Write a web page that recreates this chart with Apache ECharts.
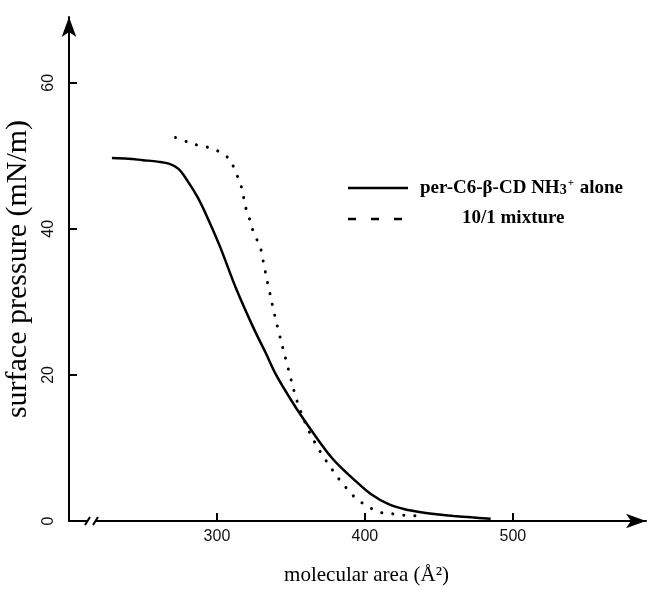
<!DOCTYPE html>
<html><head><meta charset="utf-8">
<script src="https://cdn.jsdelivr.net/npm/echarts@6/dist/echarts.min.js"></script>
<style>html,body{margin:0;padding:0;background:#fff}#c{width:651px;height:593px}</style>
</head><body><div id="c"></div>
<script>
// per-C6-beta-CD NH3+ alone (solid)
const aloneArea = [229, 240, 250, 260, 268, 274, 280, 287, 293, 302, 313, 325, 333, 340, 350, 357, 367, 377, 385, 393, 404, 416, 427, 438, 450, 460, 472, 485];
const alonePressure = [49.7, 49.6, 49.4, 49.2, 48.9, 48.2, 46.6, 44.3, 41.8, 37.6, 31.8, 26.3, 23.0, 20.0, 16.6, 14.4, 11.5, 8.8, 7.1, 5.6, 3.7, 2.3, 1.6, 1.2, 0.9, 0.7, 0.5, 0.3];
// 10/1 mixture (dotted)
const mixArea = [272, 280, 288, 295, 302, 309, 312, 316, 320, 323, 325, 329, 331, 335, 339, 341, 348, 354, 360, 366, 372, 378, 383, 388, 394, 402, 410, 418, 426, 434, 440];
const mixPressure = [52.5, 51.9, 51.4, 51.1, 50.5, 49.4, 48.0, 46.1, 42.5, 40.8, 39.3, 37.7, 35.8, 31.9, 28.2, 26.5, 21.0, 16.5, 13.3, 10.8, 8.8, 7.0, 5.6, 4.4, 3.1, 2.0, 1.2, 1.0, 0.8, 0.7, 0.6];
const xTicks = [300, 400, 500];
const yTicks = [0, 20, 40, 60];
const seriesNames = ['per-C6-β-CD NH3+ alone', '10/1 mixture'];
const xTitle = 'molecular area (Å²)';
const yTitle = 'surface pressure (mN/m)';

const zip = (a, b) => a.map((v, i) => [v, b[i]]);
const chart = echarts.init(document.getElementById('c'), null, {renderer: 'canvas'});
const serif = '"Liberation Serif", "DejaVu Serif", serif';
const sans = '"Liberation Sans", "DejaVu Sans", sans-serif';

chart.setOption({
  backgroundColor: '#fff',
  animation: false,
  grid: {left: 69, right: 5, top: 17, bottom: 72, outerBoundsMode: 'none', containLabel: false},
  xAxis: {
    type: 'value', min: 200, max: 590,
    name: xTitle, nameLocation: 'middle', nameGap: 44,
    nameTextStyle: {fontFamily: serif, fontSize: 21, color: '#000', padding: [0, 0, 0, 18]},
    axisLine: {show: true, onZero: false, lineStyle: {color: '#000', width: 2}, symbol: ['none', 'arrow'], symbolSize: [11, 20]},
    axisTick: {show: true, inside: true, length: 8, lineStyle: {color: '#000', width: 2}, customValues: xTicks},
    axisLabel: {show: true, margin: 8, fontFamily: sans, fontSize: 16, color: '#111', customValues: xTicks},
    splitLine: {show: false}
  },
  yAxis: {
    type: 'value', min: 0, max: 69,
    name: yTitle, nameLocation: 'middle', nameGap: 30, nameRotate: 90,
    nameTextStyle: {fontFamily: serif, fontSize: 30, color: '#000'},
    axisLine: {show: true, lineStyle: {color: '#000', width: 2}, symbol: ['none', 'arrow'], symbolSize: [11, 20]},
    axisTick: {show: true, inside: true, length: 8, lineStyle: {color: '#000', width: 2}, customValues: yTicks},
    axisLabel: {show: true, rotate: 90, margin: 12, fontFamily: sans, fontSize: 16, color: '#111', customValues: yTicks},
    splitLine: {show: false}
  },
  series: [
    {type: 'line', name: seriesNames[0], data: zip(aloneArea, alonePressure), showSymbol: false,
     smooth: 0.35, lineStyle: {color: '#000', width: 2.5}},
    {type: 'line', name: seriesNames[1], data: zip(mixArea, mixPressure), showSymbol: false,
     smooth: 0.35, lineStyle: {color: '#000', width: 3, type: [0.1, 11], cap: 'round'}}
  ],
  graphic: [
    // axis break marks
    {type: 'rect', shape: {x: 88, y: 517, width: 7, height: 8}, style: {fill: '#fff'}, z: 100},
    {type: 'line', shape: {x1: 85, y1: 525, x2: 90, y2: 517}, style: {stroke: '#000', lineWidth: 2}, z: 101},
    {type: 'line', shape: {x1: 93, y1: 525, x2: 98, y2: 517}, style: {stroke: '#000', lineWidth: 2}, z: 101},
    // legend
    {type: 'line', shape: {x1: 348, y1: 188, x2: 408, y2: 188}, style: {stroke: '#000', lineWidth: 2.5}},
    {type: 'line', shape: {x1: 348, y1: 219, x2: 408, y2: 219}, style: {stroke: '#000', lineWidth: 2.5, lineDash: [8, 15]}},
    {type: 'text', x: 420, y: 188, style: {
      text: '{a|per-C6-β-CD NH}{s|3}{p|+}{a| alone}',
      verticalAlign: 'middle', align: 'left',
      rich: {
        a: {fontFamily: serif, fontWeight: 'bold', fontSize: 19, fill: '#000'},
        s: {fontFamily: serif, fontWeight: 'bold', fontSize: 14, fill: '#000', padding: [4, 0, 0, 0]},
        p: {fontFamily: serif, fontWeight: 'bold', fontSize: 11, fill: '#000', padding: [0, 1, 10, 1]}
      }
    }},
    {type: 'text', x: 462, y: 218, style: {text: seriesNames[1], verticalAlign: 'middle', align: 'left',
      fontFamily: serif, fontWeight: 'bold', fontSize: 19, fill: '#000'}}
  ]
});
</script>
</body></html>
